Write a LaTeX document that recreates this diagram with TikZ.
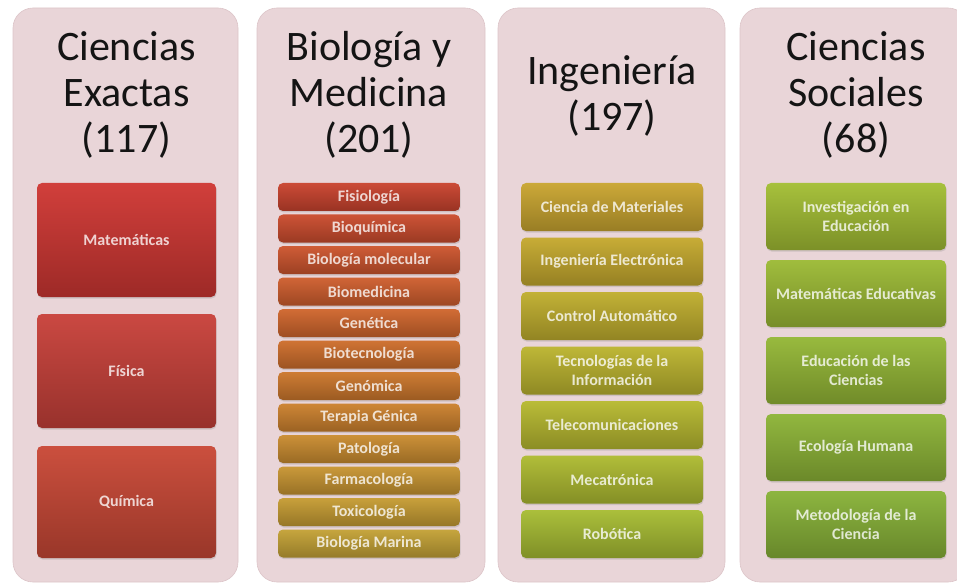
\documentclass[tikz,border=0pt]{standalone}
\usepackage{fontspec}
\setmainfont{Carlito}
\usetikzlibrary{shadows}
\definecolor{panelfill}{HTML}{E9D5D8}
\definecolor{paneldraw}{HTML}{DCC4C8}
\definecolor{rA}{HTML}{CF3733}
\definecolor{rB}{HTML}{C8413A}
\definecolor{rC}{HTML}{C94836}
\definecolor{b0}{HTML}{C9432E}
\definecolor{b1}{HTML}{CB4C2E}
\definecolor{b2}{HTML}{CD552E}
\definecolor{b3}{HTML}{CF5E2E}
\definecolor{b4}{HTML}{D0662D}
\definecolor{b5}{HTML}{CE6E2C}
\definecolor{b6}{HTML}{CC772C}
\definecolor{b7}{HTML}{CC812E}
\definecolor{b8}{HTML}{CA8C30}
\definecolor{b9}{HTML}{C89532}
\definecolor{b10}{HTML}{C69C33}
\definecolor{b11}{HTML}{C4A236}
\definecolor{i0}{HTML}{C9A530}
\definecolor{i1}{HTML}{C5A92E}
\definecolor{i2}{HTML}{C0AE2E}
\definecolor{i3}{HTML}{BCB42F}
\definecolor{i4}{HTML}{B7B930}
\definecolor{i5}{HTML}{AEBB31}
\definecolor{i6}{HTML}{A7BC33}
\definecolor{s0}{HTML}{A3BE34}
\definecolor{s1}{HTML}{9CBA35}
\definecolor{s2}{HTML}{94B736}
\definecolor{s3}{HTML}{8DB437}
\definecolor{s4}{HTML}{88B238}
\tikzset{
  panel/.style={fill=panelfill, draw=paneldraw, line width=0.6pt, rounded corners=20pt, inner sep=0pt},
  ttl/.style={font=\fontsize{42}{46}\selectfont, align=center, text=black!92, inner sep=0pt},
  sub/.style={rounded corners=5pt, text=white, text opacity=0.78,
    font=\fontsize{16}{19}\selectfont\bfseries, align=center, inner sep=0pt,
    top color=#1!96!white, bottom color=#1!76!black,
    drop shadow={opacity=0.25, shadow xshift=0.6pt, shadow yshift=-1.5pt}},
  cA/.style={minimum width=179pt},
  cB/.style={minimum width=182pt, minimum height=28pt},
  cC/.style={minimum width=182pt, minimum height=48pt},
  cD/.style={minimum width=180pt, minimum height=67pt}
}
\begin{document}
\begin{tikzpicture}[x=1pt,y=-1pt]
\useasboundingbox (0,0) rectangle (957,585);
% panels
\node[panel, minimum width=225pt, minimum height=574pt] (p1) at (125.5,295) {};
\node[panel, minimum width=228pt, minimum height=574pt] (p2) at (371,295) {};
\node[panel, minimum width=227pt, minimum height=574pt] (p3) at (611.5,295) {};
\node[panel, minimum width=228pt, minimum height=574pt] (p4) at (854,295) {};
% titles
\node[ttl] (t1) at (126.5,95) {Ciencias\\Exactas\\(117)};
\node[ttl] (t2) at (369,95) {Biología y\\Medicina\\(201)};
\node[ttl] (t3) at (612,96) {Ingeniería\\(197)};
\node[ttl] (t4) at (856,95) {Ciencias\\Sociales\\(68)};
% column 1
\node[sub=rA, cA, minimum height=114pt] (a1) at (126.5,240) {Matemáticas};
\node[sub=rB, cA, minimum height=114pt] (a2) at (126.5,371) {Física};
\node[sub=rC, cA, minimum height=112pt] (a3) at (126.5,502) {Química};
% column 2
\node[sub=b0, cB] (m0) at (369,197) {Fisiología};
\node[sub=b1, cB] (m1) at (369,228.5) {Bioquímica};
\node[sub=b2, cB] (m2) at (369,260) {Biología molecular};
\node[sub=b3, cB] (m3) at (369,291.5) {Biomedicina};
\node[sub=b4, cB] (m4) at (369,323) {Genética};
\node[sub=b5, cB] (m5) at (369,354.5) {Biotecnología};
\node[sub=b6, cB] (m6) at (369,386) {Genómica};
\node[sub=b7, cB] (m7) at (369,417.5) {Terapia Génica};
\node[sub=b8, cB] (m8) at (369,449) {Patología};
\node[sub=b9, cB] (m9) at (369,480.5) {Farmacología};
\node[sub=b10, cB] (m10) at (369,512) {Toxicología};
\node[sub=b11, cB] (m11) at (369,543.5) {Biología Marina};
% column 3
\node[sub=i0, cC] (e0) at (612,207) {Ciencia de Materiales};
\node[sub=i1, cC] (e1) at (612,261.5) {Ingeniería Electrónica};
\node[sub=i2, cC] (e2) at (612,316) {Control Automático};
\node[sub=i3, cC] (e3) at (612,370.5) {Tecnologías de la\\Información};
\node[sub=i4, cC] (e4) at (612,425) {Telecomunicaciones};
\node[sub=i5, cC] (e5) at (612,479.5) {Mecatrónica};
\node[sub=i6, cC] (e6) at (612,534) {Robótica};
% column 4
\node[sub=s0, cD] (s0) at (856,216.5) {Investigación en\\Educación};
\node[sub=s1, cD] (s1) at (856,293.5) {Matemáticas Educativas};
\node[sub=s2, cD] (s2) at (856,370.5) {Educación de las\\Ciencias};
\node[sub=s3, cD] (s3) at (856,447.5) {Ecología Humana};
\node[sub=s4, cD] (s4) at (856,524.5) {Metodología de la\\Ciencia};
\end{tikzpicture}
\end{document}
